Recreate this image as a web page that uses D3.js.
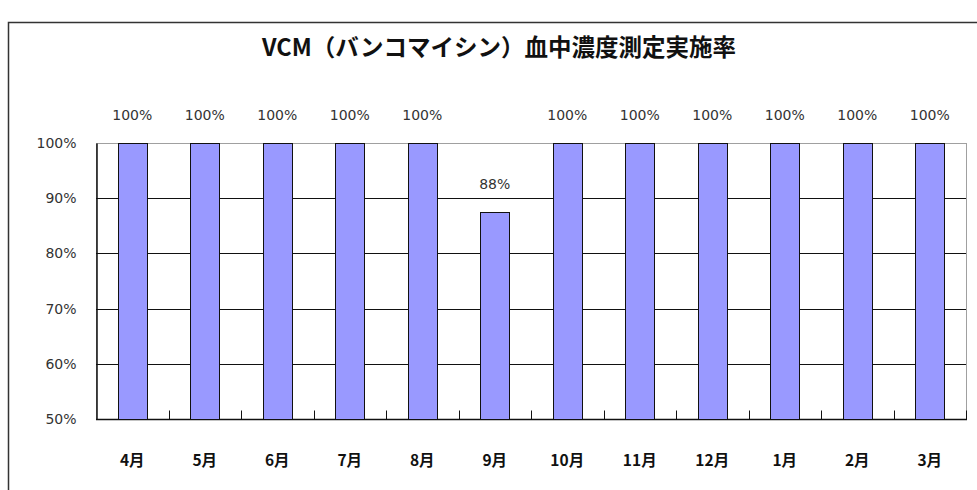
<!DOCTYPE html>
<meta charset="utf-8">
<script src="https://cdn.jsdelivr.net/npm/d3@7/dist/d3.min.js"></script>
<style>
body { margin: 0; background: #fff; }
text { font-family: "Noto Sans CJK JP", sans-serif; fill: #111; }
.ylab, .vlab { font-family: "DejaVu Sans", sans-serif; font-size: 14px; fill: #333; }
.xlab { font-weight: bold; font-size: 15.5px; }
.title { font-weight: bold; font-size: 23.5px; }
</style>
<body>
<div id="chart"></div>
<script>
// data
var months = ["4月", "5月", "6月", "7月", "8月", "9月", "10月", "11月", "12月", "1月", "2月", "3月"];
var rates = [100, 100, 100, 100, 100, 87.5, 100, 100, 100, 100, 100, 100];
var rateLabels = ["100%", "100%", "100%", "100%", "100%", "88%", "100%", "100%", "100%", "100%", "100%", "100%"];
var yTicks = [50, 60, 70, 80, 90, 100];

var W = 977, H = 490;
var plot = {left: 96, right: 966, top: 143, bottom: 419};

var svg = d3.select("#chart").append("svg")
    .attr("width", W).attr("height", H);

// chart frame
svg.append("rect")
    .attr("x", 8.5).attr("y", 22.5)
    .attr("width", 1000).attr("height", 500)
    .attr("fill", "none").attr("stroke", "#333").attr("stroke-width", 1.5);

svg.append("text")
    .attr("class", "title")
    .attr("x", 499).attr("y", 56)
    .attr("text-anchor", "middle")
    .text("VCM（バンコマイシン）血中濃度測定実施率");

var x = d3.scaleBand()
    .domain(months)
    .range([plot.left, plot.right])
    .paddingInner(0.6).paddingOuter(0.3);

var xOuter = d3.scaleBand()
    .domain(months)
    .range([plot.left, plot.right]);

var y = d3.scaleLinear()
    .domain([50, 100])
    .range([plot.bottom, plot.top]);

// plot border (grey)
svg.append("rect")
    .attr("x", plot.left + 0.5).attr("y", plot.top + 0.5)
    .attr("width", plot.right - plot.left).attr("height", plot.bottom - plot.top)
    .attr("fill", "none").attr("stroke", "#a0a0a0");

// gridlines
svg.append("g").selectAll("line")
    .data(yTicks.filter(function(d) { return d > 50 && d < 100; }))
    .enter().append("line")
    .attr("x1", plot.left).attr("x2", plot.right)
    .attr("y1", function(d) { return Math.round(y(d)) + 0.5; })
    .attr("y2", function(d) { return Math.round(y(d)) + 0.5; })
    .attr("stroke", "#111");

// y axis
var yAxis = d3.axisLeft(y)
    .tickValues(yTicks)
    .tickSize(0)
    .tickPadding(20)
    .tickFormat(function(d) { return d + "%"; });

var yg = svg.append("g")
    .attr("transform", "translate(" + (plot.left + 0.5) + ",0)")
    .call(yAxis);
yg.select(".domain").attr("stroke", "#111").attr("stroke-width", 1.5);
yg.selectAll("text").attr("class", "ylab");

// x axis with inward ticks between categories
var xg = svg.append("g")
    .attr("transform", "translate(0," + (plot.bottom + 0.5) + ")");
xg.append("line")
    .attr("x1", plot.left).attr("x2", plot.right + 1)
    .attr("stroke", "#111").attr("stroke-width", 1.5);
xg.selectAll(".tk")
    .data(months.slice(1).concat(["end"]))
    .enter().append("line")
    .attr("class", "tk")
    .attr("x1", function(d, i) { return Math.round(plot.left + xOuter.bandwidth() * (i + 1)) + 0.5; })
    .attr("x2", function(d, i) { return Math.round(plot.left + xOuter.bandwidth() * (i + 1)) + 0.5; })
    .attr("y1", 0).attr("y2", -9)
    .attr("stroke", "#111");

xg.selectAll(".xlab")
    .data(months)
    .enter().append("text")
    .attr("class", "xlab")
    .attr("x", function(d) { return x(d) + x.bandwidth() / 2; })
    .attr("y", 46)
    .attr("text-anchor", "middle")
    .text(function(d) { return d; });

// bars
svg.append("g").selectAll("rect")
    .data(rates)
    .enter().append("rect")
    .attr("x", function(d, i) { return Math.round(x(months[i])) + 0.5; })
    .attr("y", function(d) { return y(d) + 0.5; })
    .attr("width", Math.round(x.bandwidth()))
    .attr("height", function(d) { return y(50) - y(d); })
    .attr("fill", "#9999ff")
    .attr("stroke", "#111");

// value labels
svg.append("g").selectAll("text")
    .data(rates)
    .enter().append("text")
    .attr("class", "vlab")
    .attr("x", function(d, i) { return x(months[i]) + x.bandwidth() / 2; })
    .attr("y", function(d) { return y(d) - 23; })
    .attr("text-anchor", "middle")
    .text(function(d, i) { return rateLabels[i]; });
</script>
</body>
</html>
